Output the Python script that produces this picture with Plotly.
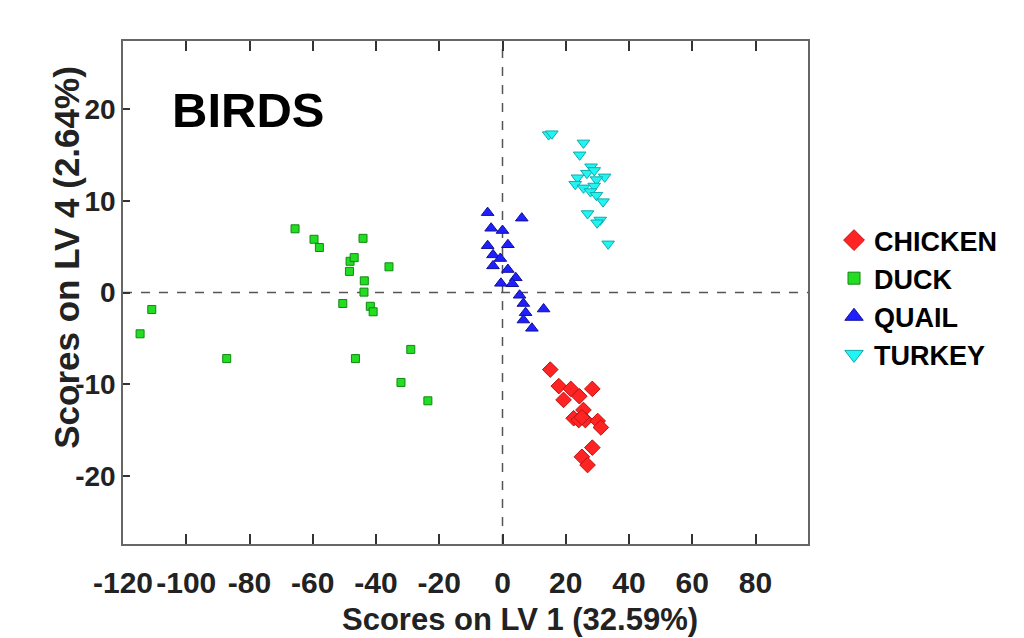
import plotly.graph_objects as go

# ---- data (Scores on LV1, Scores on LV4) ----
chicken_x = [15.1, 17.8, 21.6, 28.4, 19.3, 24.3, 25.6, 22.5, 24.1, 26.2, 25.1, 30.1, 31.1, 28.4, 25.1, 26.9]
chicken_y = [-8.4, -10.2, -10.5, -10.5, -11.7, -11.3, -12.8, -13.7, -13.9, -13.9, -13.6, -14.0, -14.7, -16.9, -17.9, -18.8]

duck_x = [-65.6, -59.6, -57.9, -44.1, -48.2, -46.9, -48.4, -35.9, -43.7, -43.8, -50.5, -41.8, -40.9,
          -110.9, -114.6, -87.2, -46.5, -29.0, -32.1, -23.6]
duck_y = [6.94, 5.8, 4.9, 5.9, 3.4, 3.8, 2.3, 2.8, 1.27, 0.04, -1.2, -1.5, -2.1,
          -1.85, -4.5, -7.2, -7.2, -6.2, -9.8, -11.8]

quail_x = [-4.7, 6.1, -3.6, 0.0, 1.7, -4.7, -3.0, -0.7, -3.0, 1.7, 4.2, -0.5, 3.1, 5.4, 6.6, 7.3, 13.0, 6.6, 9.3]
quail_y = [8.7, 8.1, 7.0, 6.75, 5.2, 5.1, 4.1, 3.7, 2.9, 2.5, 1.6, 1.0, 0.95, -0.3, -1.2, -2.2, -1.8, -3.0, -3.9]

turkey_x = [14.6, 15.6, 25.6, 24.4, 28.0, 26.7, 29.0, 23.7, 32.3, 29.7, 23.0, 25.6, 29.0, 27.8, 29.7, 31.8, 26.9, 30.9, 29.9, 33.4]
turkey_y = [17.2, 17.3, 16.3, 15.0, 13.7, 13.0, 13.3, 12.5, 12.6, 12.3, 11.8, 11.4, 11.6, 11.0, 10.6, 9.9, 8.6, 7.9, 7.6, 5.3]

x_ticks = [-120, -100, -80, -60, -40, -20, 0, 20, 40, 60, 80]
x_tick_labels = ["-120", "-100", "-80", "-60", "-40", "-20", "0", "20", "40", "60", "80"]
y_ticks = [-20, -10, 0, 10, 20]
y_tick_labels = ["-20", "-10", "0", "10", "20"]

REG = "Liberation Sans, Arial, sans-serif"

series = [
    ("CHICKEN", chicken_x, chicken_y, "diamond", 12, "#ff2424", "#c01010"),
    ("DUCK", duck_x, duck_y, "square", 8, "#22dd22", "#118811"),
    ("QUAIL", quail_x, quail_y, "triangle-up", 11, "#2020ff", "#10109a"),
    ("TURKEY", turkey_x, turkey_y, "triangle-down", 11, "#22f4f4", "#10aaaa"),
]
legend_sizes = {"CHICKEN": 16, "DUCK": 12, "QUAIL": 16, "TURKEY": 16}

fig = go.Figure()
for name, xs, ys, sym, sz, col, lc in series:
    fig.add_trace(go.Scatter(x=xs, y=ys, mode="markers", name=name, legendgroup=name,
                             showlegend=False,
                             marker=dict(symbol=sym, size=sz, color=col,
                                         line=dict(color=lc, width=1))))
for name, xs, ys, sym, sz, col, lc in series:
    # legend entry with the larger legend symbol
    fig.add_trace(go.Scatter(x=[None], y=[None], mode="markers", name=name, legendgroup=name,
                             marker=dict(symbol=sym, size=legend_sizes[name], color=col,
                                         line=dict(color=lc, width=1))))

fig.add_hline(y=0, line=dict(color="#555555", width=1.5, dash="dash"), layer="below")
fig.add_vline(x=0, line=dict(color="#555555", width=1.5, dash="dash"), layer="below")

fig.add_annotation(text="BIRDS", xref="paper", yref="paper", x=0.182, y=0.863,
                   showarrow=False, xanchor="center", yanchor="middle",
                   font=dict(family=REG, size=49, color="black", weight="bold"))
fig.add_annotation(text="Scores on LV 1 (32.59%)", xref="paper", yref="paper",
                   x=0.580, y=-0.150, showarrow=False, xanchor="center", yanchor="middle",
                   font=dict(family=REG, size=31, color="#222222", weight="bold"))
fig.add_annotation(text="Scores on LV 4 (2.64%)", xref="paper", yref="paper",
                   x=-0.0818, y=0.571, showarrow=False, xanchor="center", yanchor="middle",
                   textangle=-90,
                   font=dict(family=REG, size=35, color="#222222", weight="bold"))

fig.update_layout(
    width=1016, height=630,
    margin=dict(l=115, r=216, t=33, b=94),
    paper_bgcolor="white", plot_bgcolor="white",
    showlegend=True,
    legend=dict(x=1.038, y=0.49, xanchor="left", yanchor="middle",
                font=dict(family=REG, size=27, color="black", weight="bold"),
                bgcolor="rgba(0,0,0,0)", itemsizing="trace", tracegroupgap=0),
    xaxis=dict(range=[-120, 96.6], tickvals=x_ticks, ticktext=x_tick_labels,
               tickangle=0, automargin=False,
               ticks="inside", ticklen=10, tickcolor="#333333", tickwidth=1.5,
               showline=True, linecolor="#666666", linewidth=1.5, mirror="ticks",
               showgrid=False, zeroline=False,
               tickfont=dict(family=REG, size=30, color="#222222", weight="bold"),
               ticklabelstandoff=11),
    yaxis=dict(range=[-27.4, 27.4], tickvals=y_ticks, ticktext=y_tick_labels,
               automargin=False,
               ticks="inside", ticklen=7, tickcolor="#333333", tickwidth=1.5,
               showline=True, linecolor="#666666", linewidth=1.5, mirror=True,
               showgrid=False, zeroline=False,
               tickfont=dict(family=REG, size=28, color="#222222", weight="bold")),
)

fig.write_html("out.html")
